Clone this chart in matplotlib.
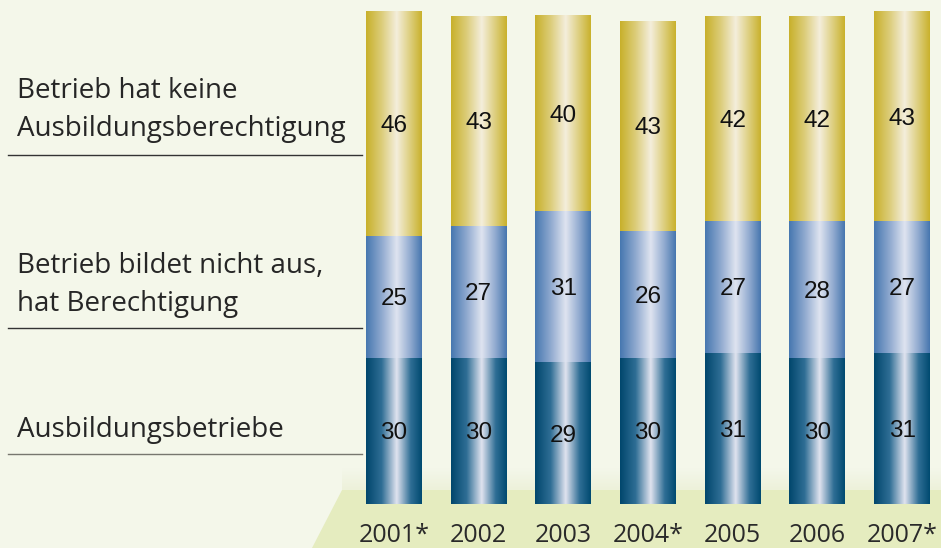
import numpy as np
import matplotlib
matplotlib.use('Agg')
import matplotlib.pyplot as plt
from matplotlib.colors import LinearSegmentedColormap
from matplotlib.lines import Line2D
from matplotlib.patches import Polygon

years = ['2001*', '2002', '2003', '2004*', '2005', '2006', '2007*']
ausbildung = [30, 30, 29, 30, 31, 30, 31]
nicht_aus = [25, 27, 31, 26, 27, 28, 27]
keine_ber = [46, 43, 40, 43, 42, 42, 43]
series_labels = ['Ausbildungsbetriebe',
                 'Betrieb bildet nicht aus,\nhat Berechtigung',
                 'Betrieb hat keine\nAusbildungsberechtigung']

BG = '#f4f7ea'
FLOOR = '#e5ecbf'
# edge / highlight colours for the cylinder look
shades = [
    ['#00466c', '#2f6e95', '#e0e3ef', '#2f6e95', '#004a70'],
    ['#4677b0', '#8fa9cf', '#dfe4f0', '#8fa9cf', '#4676ae'],
    ['#c8b02a', '#dccd7a', '#f4eedc', '#dccd7a', '#c9b12c'],
]
cmaps = [LinearSegmentedColormap.from_list('c%d' % i,
         list(zip([0, 0.28, 0.55, 0.8, 1.0], s))) for i, s in enumerate(shades)]

fig = plt.figure(figsize=(9.41, 5.48), dpi=100)
fig.patch.set_facecolor(BG)
ax = fig.add_axes([0, 0, 1, 1])
ax.set_facecolor(BG)
ax.axis('off')

# pixel geometry: bar i centre at 394 + 84.7*i, value v at y = 504 - 4.88*v (from top)
step, unit = 84.7, 4.88
xlim = ((0 - 394) / step, (941 - 394) / step)
ylim = ((504 - 548) / unit, 504 / unit)

# floor with a soft glow above it
floor = Polygon([[342 / 941, 1 - 490 / 548], [1, 1 - 490 / 548], [1, 0], [312 / 941, 0]],
                closed=True, transform=fig.transFigure, facecolor=FLOOR, edgecolor='none', zorder=0)
ax.add_patch(floor)
glow = np.linspace(0, 1, 50).reshape(-1, 1)
ax.imshow(glow, extent=((342 - 394) / step, xlim[1], (504 - 490) / unit, (504 - 468) / unit),
          cmap=LinearSegmentedColormap.from_list('g', ['#edf1da', BG]), aspect='auto',
          origin='lower', zorder=0.5)

grad = np.linspace(0, 1, 256).reshape(1, -1)
w = 56 / step
for i in range(len(years)):
    bottom = 0
    for k, vals in enumerate([ausbildung, nicht_aus, keine_ber]):
        v = vals[i]
        ax.imshow(grad, cmap=cmaps[k], aspect='auto',
                  extent=(i - w / 2, i + w / 2, bottom, bottom + v), zorder=2)
        ax.text(i, bottom + v / 2, str(v), ha='center', va='center_baseline', fontsize=17.5,
                family='Liberation Sans', color='#111111', zorder=3)
        bottom += v
    ax.text(i, (504 - 535) / unit, years[i], ha='center', va='center', fontsize=18,
            family='Open Sans', color='#2a2a2a', zorder=3)

ax.set_xlim(*xlim)
ax.set_ylim(*ylim)

# left legend labels with rules
label_y = [430, 285, 110]
rule_y = [454, 328, 155]
rule_c = ['#77776f', '#333333', '#333333']
for lab, ty, ry, rc in zip(series_labels, label_y, rule_y, rule_c):
    fig.text(17 / 941, 1 - ty / 548, lab, ha='left', va='center', fontsize=20,
             family='Open Sans', color='#262626', linespacing=1.52)
    fig.add_artist(Line2D([8 / 941, 362 / 941], [1 - ry / 548, 1 - ry / 548],
                          color=rc, lw=1.0))

fig.savefig('out.png', dpi=100, facecolor=BG)
